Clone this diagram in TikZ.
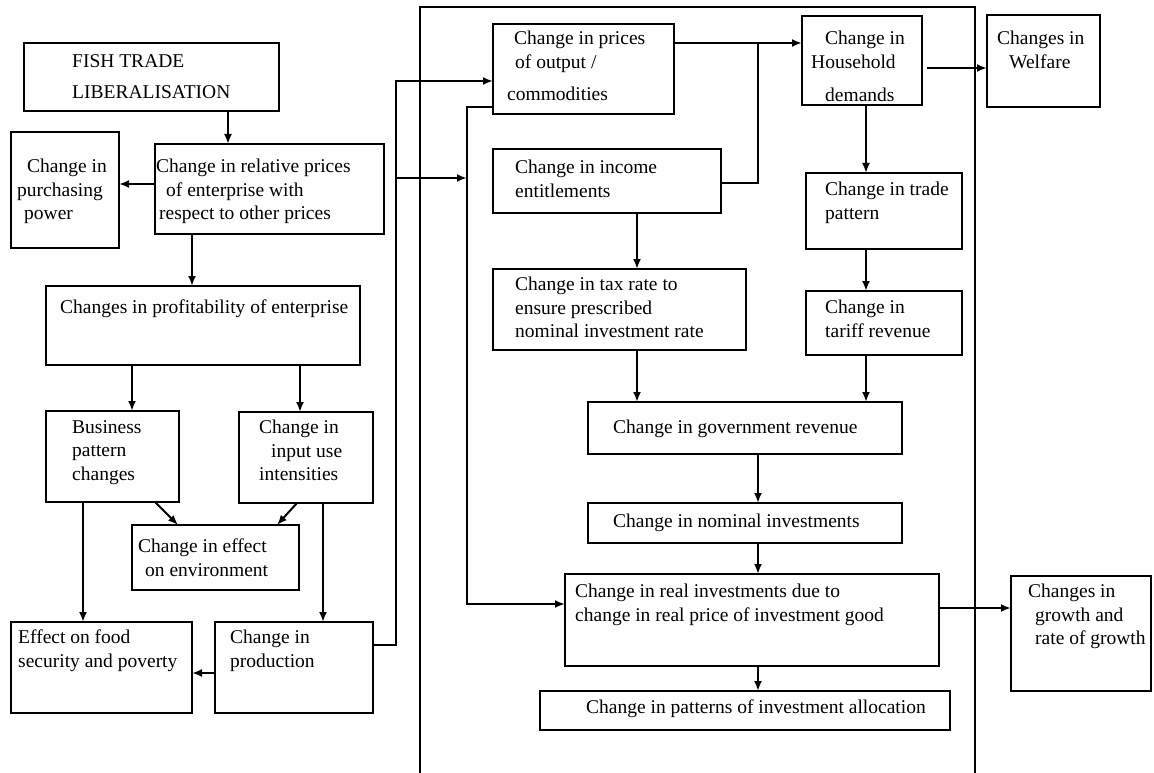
\documentclass[tikz,border=0pt]{standalone}
\usepackage{fontspec}
\setmainfont{Liberation Serif}
\usetikzlibrary{arrows.meta}

\tikzset{
  box/.style={draw, line width=1.3pt, anchor=north west, inner sep=0pt, outer sep=0pt},
  lbl/.style={anchor=north west, align=left, inner sep=0pt, font=\fontsize{19.5}{23.5}\selectfont},
  arr/.style={line width=2pt, -{Latex[length=10pt,width=8pt]}},
  ln/.style={line width=2pt}
}

\begin{document}
\begin{tikzpicture}[x=1pt, y=-1pt]
		\useasboundingbox (0,0) rectangle (1154,773);

		% left column
		\node[box, minimum width=255pt, minimum height=68pt, label={[lbl, xshift=48pt, yshift=-11pt]north west:{FISH TRADE\\[8pt]LIBERALISATION}}] (fish) at (24,43) {};
		\node[box, minimum width=229pt, minimum height=90pt, label={[lbl, xshift=1pt, yshift=-15pt]north west:{Change in relative prices\\\hspace*{10pt}of enterprise with\\\hspace*{3pt}respect to other prices}}] (rel) at (155,144) {};
		\node[box, minimum width=108pt, minimum height=116pt, label={[lbl, xshift=6pt, yshift=-27pt]north west:{\hspace*{10pt}Change in\\purchasing\\\hspace*{7pt}power}}] (purch) at (11,132) {};
		\node[box, minimum width=314pt, minimum height=79pt, label={[lbl, xshift=14pt, yshift=-14pt]north west:{Changes in profitability of enterprise}}] (prof) at (46,286) {};
		\node[box, minimum width=133pt, minimum height=91pt, label={[lbl, xshift=26pt, yshift=-9pt]north west:{Business\\pattern\\changes}}] (bus) at (46,411) {};
		\node[box, minimum width=134pt, minimum height=91pt, label={[lbl, xshift=20pt, yshift=-8pt]north west:{Change in\\\hspace*{12pt}input use\\intensities}}] (input) at (239,412) {};
		\node[box, minimum width=167pt, minimum height=65pt, label={[lbl, xshift=6pt, yshift=-14pt]north west:{Change in effect\\\hspace*{7pt}on environment}}] (env) at (132,525) {};
		\node[box, minimum width=181pt, minimum height=91pt, label={[lbl, xshift=7pt, yshift=-8pt]north west:{Effect on food\\security and poverty}}] (food) at (11,622) {};
		\node[box, minimum width=158pt, minimum height=91pt, label={[lbl, xshift=15pt, yshift=-8pt]north west:{Change in\\production}}] (prod) at (215,622) {};

		% middle frame
		\draw[line width=1.3pt] (420,773) -- (420,7) -- (975,7) -- (975,773);

		\node[box, minimum width=181pt, minimum height=90pt, label={[lbl, xshift=14pt, yshift=-7pt]north west:{\hspace*{7pt}Change in prices\\\hspace*{8pt}of output /\\[9pt]commodities}}] (prices) at (493,24) {};
		\node[box, minimum width=228pt, minimum height=64pt, label={[lbl, xshift=22pt, yshift=-11pt]north west:{Change in income\\entitlements}}] (income) at (493,149) {};
		\node[box, minimum width=253pt, minimum height=81pt, label={[lbl, xshift=22pt, yshift=-8pt]north west:{Change in tax rate to\\ensure prescribed\\nominal investment rate}}] (tax) at (493,269) {};
		\node[box, minimum width=120pt, minimum height=89pt, label={[lbl, xshift=9pt, yshift=-15pt]north west:{\hspace*{14pt}Change in\\Household\\[10pt]\hspace*{14pt}demands}}] (house) at (802,16) {};
		\node[box, minimum width=156pt, minimum height=76pt, label={[lbl, xshift=19pt, yshift=-9pt]north west:{Change in trade\\pattern}}] (trade) at (806,173) {};
		\node[box, minimum width=156pt, minimum height=64pt, label={[lbl, xshift=19pt, yshift=-9pt]north west:{Change in\\tariff revenue}}] (tariff) at (806,291) {};
		\node[box, minimum width=314pt, minimum height=52pt, label={[lbl, xshift=25pt, yshift=-18pt]north west:{Change in government revenue}}] (gov) at (588,402) {};
		\node[box, minimum width=314pt, minimum height=40pt, label={[lbl, xshift=25pt, yshift=-11pt]north west:{Change in nominal investments}}] (nom) at (588,503) {};
		\node[box, minimum width=374pt, minimum height=92pt, label={[lbl, xshift=10pt, yshift=-10pt]north west:{Change in real investments due to\\change in real price of investment good}}] (real) at (565,574) {};
		\node[box, minimum width=410pt, minimum height=39pt, label={[lbl, xshift=46pt, yshift=-9pt]north west:{Change in patterns of investment allocation}}] (alloc) at (540,691) {};

		% right column
		\node[box, minimum width=113pt, minimum height=92pt, label={[lbl, xshift=10pt, yshift=-16pt]north west:{Changes in\\\hspace*{12pt}Welfare}}] (welfare) at (987,15) {};
		\node[box, minimum width=140pt, minimum height=115pt, label={[lbl, xshift=17pt, yshift=-8pt]north west:{Changes in\\\hspace*{7pt}growth and\\\hspace*{7pt}rate of growth}}] (growth) at (1011,576) {};

		\coordinate (jl) at (396,81);
		\coordinate (jm) at (467,107);
		\coordinate (jr) at (758,43);

		\path[arr] (fish.south -| 228,0) edge (rel.north -| 228,0);
		\path[arr] (rel.west |- 0,184) edge (purch.east |- 0,184);
		\path[arr] (rel.south -| 192,0) edge (prof.north -| 192,0);
		\path[arr] (prof.south -| 132,0) edge (bus.north -| 132,0);
		\path[arr] (prof.south -| 300,0) edge (input.north -| 300,0);
		\path[arr] (bus.south -| 155,0) edge (env.north -| 178,0);
		\path[arr] (input.south -| 297,0) edge (env.north -| 277,0);
		\path[arr] (bus.south -| 83,0) edge (food.north -| 83,0);
		\path[arr] (input.south -| 323,0) edge (prod.north -| 323,0);
		\path[arr] (prod.west |- 0,673) edge (food.east |- 0,673);

		\draw[arr] (prod.east |- 0,645) -| (jl) -- (prices.west |- jl);
		\draw[arr] (jl |- 0,178) -- (jm |- 0,178);
		\draw[arr] (prices.west |- jm) -- (jm) |- (real.west |- 0,604);
		\draw[arr] (prices.east |- jr) -- (house.west |- jr);
		\draw[ln] (income.east |- 0,183) -| (jr);

		\path[arr] ([xshift=5pt]house.east |- 0,68) edge (welfare.west |- 0,68);
		\path[arr] (house.south -| 866,0) edge (trade.north -| 866,0);
		\path[arr] (trade.south -| 866,0) edge (tariff.north -| 866,0);
		\path[arr] (tariff.south -| 866,0) edge (gov.north -| 866,0);
		\path[arr] (income.south -| 637,0) edge (tax.north -| 637,0);
		\path[arr] (tax.south -| 637,0) edge (gov.north -| 637,0);
		\path[arr] (gov.south -| 758,0) edge (nom.north -| 758,0);
		\path[arr] (nom.south -| 758,0) edge (real.north -| 758,0);
		\path[arr] (real.south -| 758,0) edge (alloc.north -| 758,0);
		\path[arr] (real.east |- 0,608) edge (growth.west |- 0,608);
	\end{tikzpicture}
\end{document}
